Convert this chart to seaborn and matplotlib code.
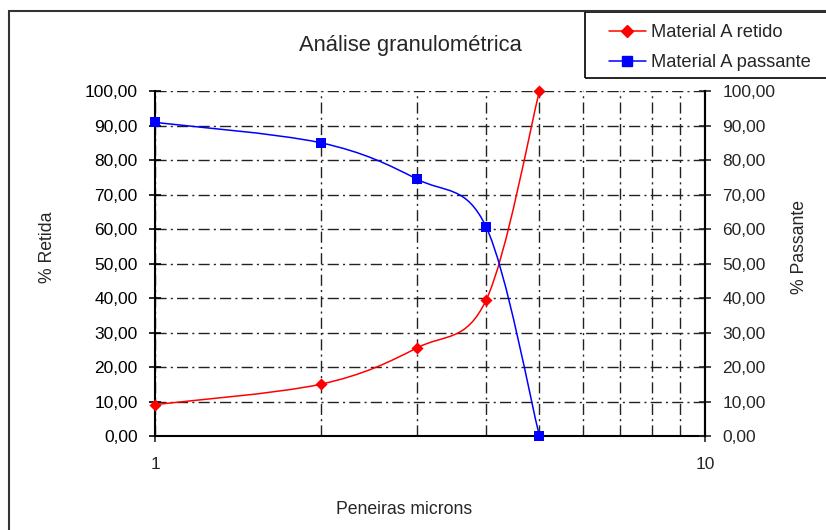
import numpy as np
import matplotlib
matplotlib.use('Agg')
import matplotlib.pyplot as plt
import seaborn as sns
from matplotlib.path import Path
from matplotlib.patches import PathPatch, Rectangle
from matplotlib.lines import Line2D
from matplotlib.ticker import FuncFormatter, FixedLocator, NullFormatter

# values
sieves = [1, 2, 3, 4, 5]
retido = [9.1, 15.0, 25.6, 39.4, 100.0]
passante = [90.9, 85.0, 74.4, 60.6, 0.0]
x_ticks = [1, 10]
y_ticks = list(range(0, 101, 10))
labels = ['Material A retido', 'Material A passante']

sns.set_theme(style='white')
plt.rcParams['font.family'] = ['Liberation Sans', 'DejaVu Sans']


def smooth_path(xs, ys):
    # excel style smoothed line (catmull-rom as cubic beziers, log x)
    pts = np.column_stack([np.log10(xs), np.asarray(ys, float)])
    ext = np.vstack([pts[0], pts, pts[-1]])
    verts = [pts[0]]
    codes = [Path.MOVETO]
    for i in range(len(pts) - 1):
        p0, p1, p2, p3 = ext[i], ext[i + 1], ext[i + 2], ext[i + 3]
        verts += [p1 + (p2 - p0) / 6, p2 - (p3 - p1) / 6, p2]
        codes += [Path.CURVE4] * 3
    verts = np.array(verts)
    verts[:, 0] = 10 ** verts[:, 0]
    return Path(verts, codes)


fig = plt.figure(figsize=(8.26, 5.30), dpi=100)
ax = fig.add_axes([155 / 826, 1 - 436 / 530, 550 / 826, 345 / 530])
ax.set_xscale('log')
ax.set_xlim(1, 10)
ax.set_ylim(0, 100)

fmt = FuncFormatter(lambda v, p: f'{v:.2f}'.replace('.', ','))
ax.xaxis.set_major_locator(FixedLocator(x_ticks))
ax.xaxis.set_major_formatter(FuncFormatter(lambda v, p: f'{v:g}'))
ax.xaxis.set_minor_locator(FixedLocator(range(2, 10)))
ax.xaxis.set_minor_formatter(NullFormatter())
ax.yaxis.set_major_locator(FixedLocator(y_ticks))
ax.yaxis.set_major_formatter(fmt)

grid_ls = (0, (8, 3, 1.5, 3))
ax.grid(True, which='both', axis='x', color='#222222', linestyle=grid_ls, linewidth=1)
ax.grid(True, which='major', axis='y', color='#222222', linestyle=grid_ls, linewidth=1)

ax.tick_params(axis='y', direction='inout', length=9, width=1.2, left=True,
               labelsize=12.5, pad=8, colors='black')
ax.tick_params(axis='x', which='major', direction='out', length=4, width=1.2,
               bottom=True, labelsize=12.5, pad=11)
ax.tick_params(axis='x', which='minor', length=0)

for s in ['left', 'bottom', 'right']:
    ax.spines[s].set_visible(True)
    ax.spines[s].set_color('black')
    ax.spines[s].set_linewidth(1.5)
ax.spines['top'].set_visible(False)

ax2 = ax.twinx()
ax2.set_ylim(0, 100)
ax2.yaxis.set_major_locator(FixedLocator(y_ticks))
ax2.yaxis.set_major_formatter(fmt)
ax2.tick_params(axis='y', direction='inout', length=9, width=1.2, right=True,
                labelsize=12.5, pad=8)
for s in ['left', 'bottom', 'top']:
    ax2.spines[s].set_visible(False)
ax2.spines['right'].set_color('black')
ax2.spines['right'].set_linewidth(1.5)
ax2.grid(False)

# smooth lines
ax.add_patch(PathPatch(smooth_path(sieves, retido), fill=False, edgecolor='red',
                       linewidth=1.1, clip_on=False, zorder=4))
ax.add_patch(PathPatch(smooth_path(sieves, passante), fill=False, edgecolor='blue',
                       linewidth=1.1, clip_on=False, zorder=4))

# markers
sns.scatterplot(x=sieves, y=retido, marker='D', color='red', s=38, linewidth=0,
                ax=ax, zorder=5, clip_on=False, legend=False)
sns.scatterplot(x=sieves, y=passante, marker='s', color='blue', s=60, linewidth=0,
                ax=ax, zorder=5, clip_on=False, legend=False)

handles = [Line2D([], [], color='red', marker='D', markersize=6, lw=1.1),
           Line2D([], [], color='blue', marker='s', markersize=7.5, lw=1.1)]
leg = fig.legend(handles, labels, loc='upper left',
                 bbox_to_anchor=(598 / 826, 1 - 13 / 530), frameon=False,
                 fontsize=13.2, handlelength=2.0, handletextpad=0.3,
                 borderpad=0.6, labelspacing=0.72, borderaxespad=0)

# legend box runs past the right edge
fig.add_artist(Rectangle((585 / 826, 1 - 78 / 530), 0.5, 66 / 530,
                         transform=fig.transFigure, fill=False,
                         edgecolor='black', linewidth=1.2, clip_on=False))

fig.text(410 / 826, 1 - 46 / 530, 'Análise granulométrica', ha='center',
         va='center', fontsize=15.8)
fig.text(404 / 826, 1 - 510 / 530, 'Peneiras microns', ha='center', va='center',
         fontsize=12.7)
fig.text(47 / 826, 1 - 247 / 530, '% Retida', ha='center', va='center',
         rotation=90, fontsize=12.7)
fig.text(800 / 826, 1 - 247 / 530, '% Passante', ha='center', va='center',
         rotation=90, fontsize=12.7)

# chart area border
fig.add_artist(Rectangle((9 / 826, -0.1), 1.2, 1 - 11 / 530 + 0.1,
                         transform=fig.transFigure, fill=False,
                         edgecolor='#333333', linewidth=1.5, clip_on=False))

fig.savefig('out.png', dpi=100)
